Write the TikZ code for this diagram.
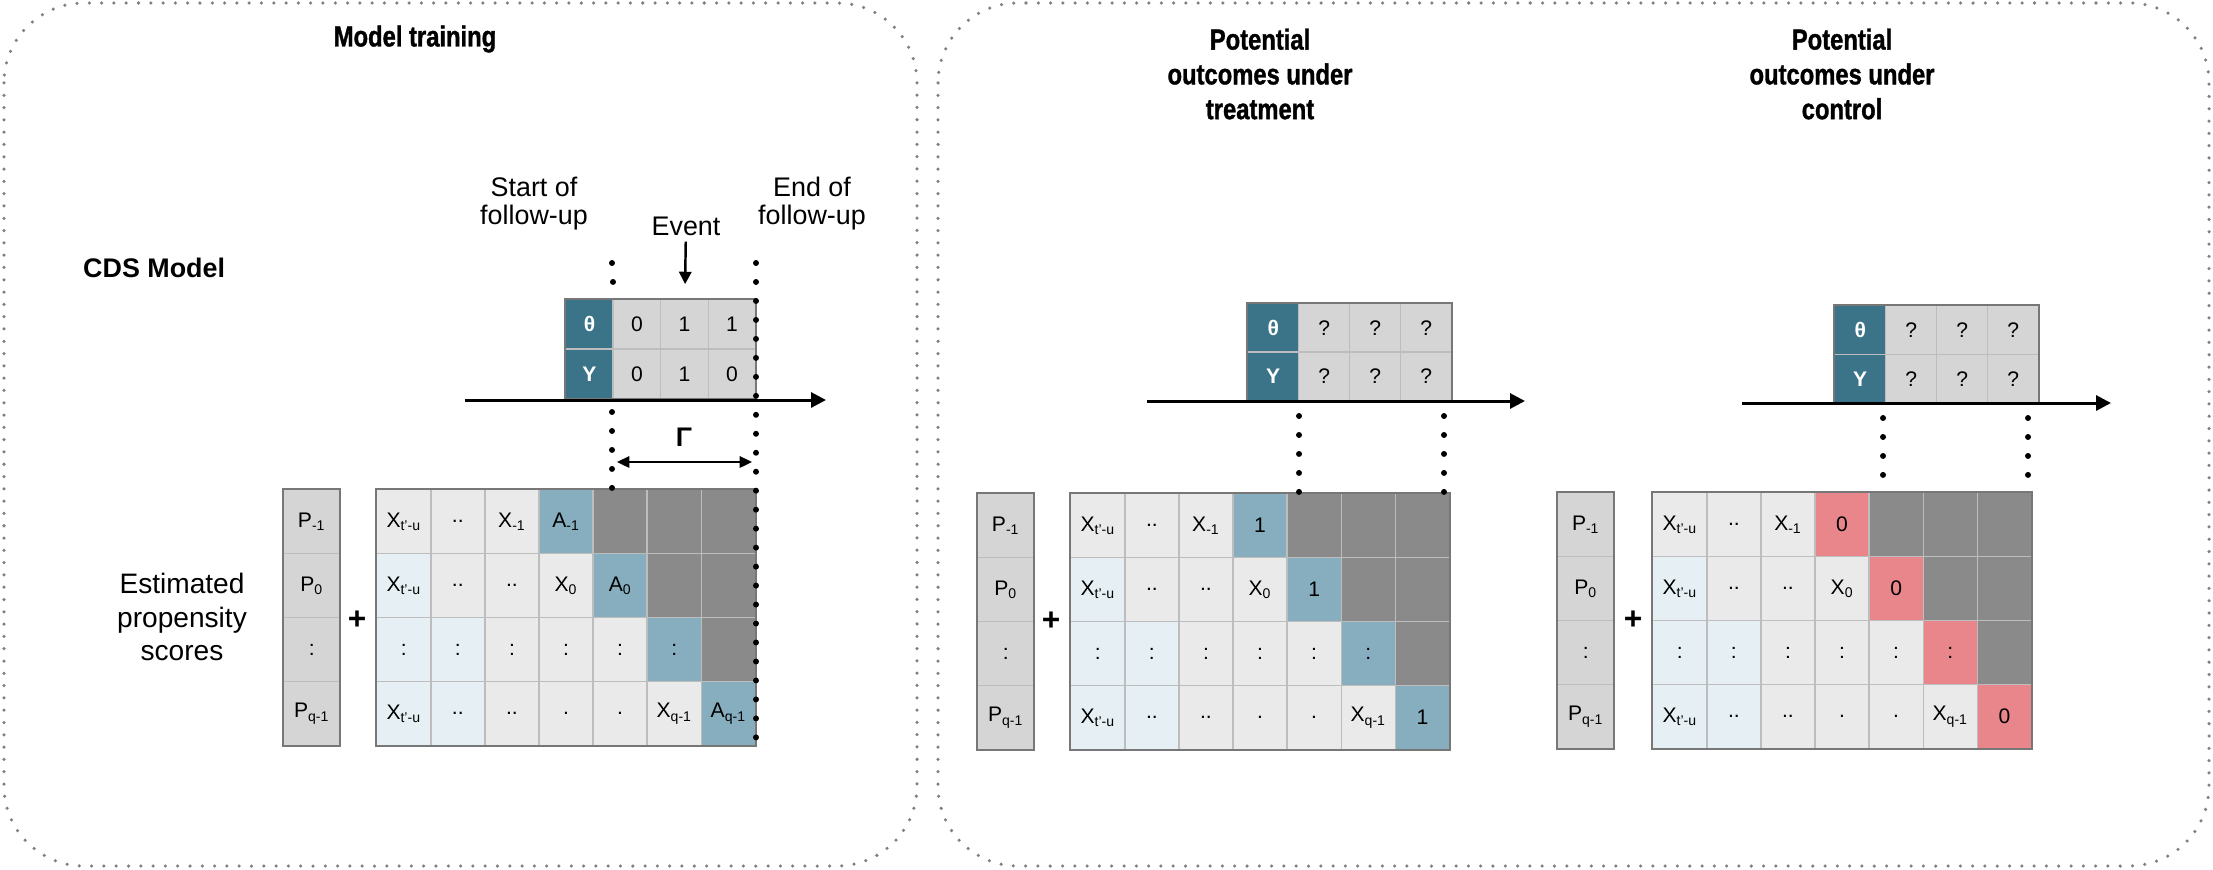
\documentclass[tikz,border=0pt]{standalone}
\usepackage{fontspec}
\setmainfont{Liberation Sans}
\newfontfamily\titlefont[FakeStretch=0.82, FakeBold=1.2]{Liberation Sans Bold}
\usetikzlibrary{arrows.meta}
\definecolor{tealdark}{HTML}{3B7489}
\definecolor{teallight}{HTML}{86AEBE}
\definecolor{graydark}{HTML}{8A8A8A}
\definecolor{graylight}{HTML}{EAEAEA}
\definecolor{paleblue}{HTML}{E6F0F4}
\definecolor{graymid}{HTML}{D5D5D5}
\definecolor{pinkcell}{HTML}{E8868C}
\definecolor{cellline}{HTML}{BDBDBD}
\definecolor{frameline}{HTML}{777777}
\definecolor{panelline}{HTML}{808080}
\tikzset{
  every node/.style={
    font=\fontsize{12}{14}\selectfont
  },
  cell/.style={
    shape=rectangle,
    draw=cellline,
    line width=0.8pt,
    minimum width=1.082cm,
    minimum height=1.28cm,
    inner sep=0pt,
    text=black
  },
  lt/.style={cell, fill=graylight},
  pb/.style={cell, fill=paleblue},
  dk/.style={cell, fill=graydark},
  ac/.style={cell, fill=teallight},
  pk/.style={cell, fill=pinkcell},
  pc/.style={cell, fill=graymid, minimum width=1.12cm},
  tcell/.style={
    shape=rectangle,
    draw=cellline,
    line width=0.8pt,
    minimum width=0.95cm,
    minimum height=0.99cm,
    inner sep=0pt
  },
  tc/.style={tcell, fill=graymid, text=black},
  hd/.style={tcell, fill=tealdark, text=white, font=\fontsize{12}{14}\selectfont\bfseries},
  frame/.style={draw=frameline, line width=1.1pt},
  timeline/.style={line width=1.7pt, -{Triangle[length=8.5pt,width=8.5pt]}},
  followup/.style={line width=3.4pt, line cap=round, dash pattern=on 0pt off 10.8pt},
  span/.style={line width=1.1pt, {Triangle[length=7pt,width=6.5pt]}-{Triangle[length=7pt,width=6.5pt]}},
  eventarrow/.style={line width=1.4pt, -{Triangle[length=7pt,width=7pt]}, shorten >=8.5pt},
  panel/.style={draw=panelline, line width=2pt, line cap=round, dash pattern=on 0pt off 7pt, rounded corners=1.6cm},
  title/.style={font=\titlefont\fontsize{16.5}{19.8}\selectfont, align=center},
  note/.style={font=\fontsize{15.3}{15.9}\selectfont, align=center},
  plus/.style={font=\fontsize{18}{20}\selectfont\bfseries}
}
\begin{document}
\begin{tikzpicture}[x=0.02cm, y=-0.02cm]
  \useasboundingbox (0,0) rectangle (2213,869);
  % panels
  \draw[panel] (4,3) rectangle (917,866);
  \draw[panel] (938,3) rectangle (2209,866);

  % model training
  \node[title] (Ltitle) at (415,39) {Model training};
  \node[note, font=\fontsize{15.3}{15.9}\selectfont\bfseries, anchor=west] (Lcds) at (77,268) {CDS Model};
  \node[note] (Lstart) at (534,204) {Start of\\follow-up};
  \node[note] (Lend) at (812,204) {End of\\follow-up};
  \node[note] (Lev) at (686,226) {Event};
  \foreach \cells [count=\r from 0] in {{hd/θ, tc/0, tc/1, tc/1}, {hd/Y, tc/0, tc/1, tc/0}}
    \foreach \s/\txt [count=\c from 0] in \cells
      \node[\s, anchor=north west] (LT-\r-\c) at (565+\c*47.5, 299+\r*49.5) {\txt};
  \draw[frame] (LT-0-0.north west) rectangle (LT-1-3.south east);
  \draw[eventarrow] (Lev) -- (LT-0-2);
  \coordinate (Lt0) at (465,400);
  \coordinate (Lt1) at (826,400);
  \draw[timeline] (Lt0) -- (Lt1);
  \foreach \txt [count=\r from 0] in {P\textsubscript{-1}, P\textsubscript{0}, :, P\textsubscript{q-1}}
    \node[pc, anchor=north west] (LP-\r) at (283, 489+\r*64) {\txt};
  \draw[frame] (LP-0.north west) rectangle (LP-3.south east);
  \node[plus] (Lplus) at (357,620) {+};
  \node[note, font=\fontsize{16}{19.3}\selectfont] (Lest) at (182,617) {Estimated\\propensity\\scores};
  \foreach \cells [count=\r from 0] in {
    {lt/X\textsubscript{t'-u}, lt/.., lt/X\textsubscript{-1}, ac/A\textsubscript{-1}, dk/, dk/, dk/},
    {pb/X\textsubscript{t'-u}, lt/.., lt/.., lt/X\textsubscript{0}, ac/A\textsubscript{0}, dk/, dk/},
    {pb/:, pb/:, lt/:, lt/:, lt/:, ac/:, dk/},
    {pb/X\textsubscript{t'-u}, pb/.., lt/.., lt/., lt/., lt/X\textsubscript{q-1}, ac/A\textsubscript{q-1}}}
    \foreach \s/\txt [count=\c from 0] in \cells
      \node[\s, anchor=north west] (L-\r-\c) at (376+\c*54.1, 489+\r*64) {\txt};
  \draw[frame] (L-0-0.north west) rectangle (L-3-6.south east);
  \coordinate (Ls0) at (612,263);
  \coordinate (Ls1) at (612,412);
  \coordinate (Le0) at (756,263);
  \draw[followup] (Ls0) -- (LT-0-0.north east);
  \draw[followup] (Ls1) -- (Ls1 |- L-0-4.north);
  \draw[followup] (Le0) -- (Le0 |- L-3-6.south);
  \coordinate (Lg0) at (617,462);
  \coordinate (Lg1) at (752,462);
  \draw[span] (Lg0) -- (Lg1);
  \node[font=\fontsize{15.3}{16}\selectfont\bfseries] (Lgam) at (684,437) {Γ};

  % under treatment
  \node[title] (Ttitle) at (1260,74) {Potential\\outcomes under\\treatment};
  \begin{scope}[tcell/.append style={minimum width=1.02cm, minimum height=0.97cm}]
    \foreach \cells [count=\r from 0] in {{hd/θ, tc/?, tc/?, tc/?}, {hd/Y, tc/?, tc/?, tc/?}}
      \foreach \s/\txt [count=\c from 0] in \cells
        \node[\s, anchor=north west] (TT-\r-\c) at (1247+\c*51, 303+\r*48.5) {\txt};
  \end{scope}
  \draw[frame] (TT-0-0.north west) rectangle (TT-1-3.south east);
  \coordinate (Tt0) at (1147,401);
  \coordinate (Tt1) at (1525,401);
  \draw[timeline] (Tt0) -- (Tt1);
  \foreach \txt [count=\r from 0] in {P\textsubscript{-1}, P\textsubscript{0}, :, P\textsubscript{q-1}}
    \node[pc, anchor=north west] (TP-\r) at (977, 493+\r*64) {\txt};
  \draw[frame] (TP-0.north west) rectangle (TP-3.south east);
  \node[plus] (Tplus) at (1051,621) {+};
  \foreach \cells [count=\r from 0] in {
    {lt/X\textsubscript{t'-u}, lt/.., lt/X\textsubscript{-1}, ac/1, dk/, dk/, dk/},
    {pb/X\textsubscript{t'-u}, lt/.., lt/.., lt/X\textsubscript{0}, ac/1, dk/, dk/},
    {pb/:, pb/:, lt/:, lt/:, lt/:, ac/:, dk/},
    {pb/X\textsubscript{t'-u}, pb/.., lt/.., lt/., lt/., lt/X\textsubscript{q-1}, ac/1}}
    \foreach \s/\txt [count=\c from 0] in \cells
      \node[\s, anchor=north west] (T-\r-\c) at (1070+\c*54.1, 493+\r*64) {\txt};
  \draw[frame] (T-0-0.north west) rectangle (T-3-6.south east);
  \coordinate (Ts1) at (1299,416);
  \coordinate (Te1) at (1444,416);
  \draw[followup] (Ts1) -- (Ts1 |- T-0-4.north);
  \draw[followup] (Te1) -- (Te1 |- T-0-6.north);

  % under control
  \node[title] (Ctitle) at (1842,74) {Potential\\outcomes under\\control};
  \begin{scope}[tcell/.append style={minimum width=1.02cm, minimum height=0.98cm}]
    \foreach \cells [count=\r from 0] in {{hd/θ, tc/?, tc/?, tc/?}, {hd/Y, tc/?, tc/?, tc/?}}
      \foreach \s/\txt [count=\c from 0] in \cells
        \node[\s, anchor=north west] (CT-\r-\c) at (1834+\c*51, 305+\r*49) {\txt};
  \end{scope}
  \draw[frame] (CT-0-0.north west) rectangle (CT-1-3.south east);
  \coordinate (Ct0) at (1742,403);
  \coordinate (Ct1) at (2111,403);
  \draw[timeline] (Ct0) -- (Ct1);
  \foreach \txt [count=\r from 0] in {P\textsubscript{-1}, P\textsubscript{0}, :, P\textsubscript{q-1}}
    \node[pc, anchor=north west] (CP-\r) at (1557, 492+\r*64) {\txt};
  \draw[frame] (CP-0.north west) rectangle (CP-3.south east);
  \node[plus] (Cplus) at (1633,620) {+};
  \foreach \cells [count=\r from 0] in {
    {lt/X\textsubscript{t'-u}, lt/.., lt/X\textsubscript{-1}, pk/0, dk/, dk/, dk/},
    {pb/X\textsubscript{t'-u}, lt/.., lt/.., lt/X\textsubscript{0}, pk/0, dk/, dk/},
    {pb/:, pb/:, lt/:, lt/:, lt/:, pk/:, dk/},
    {pb/X\textsubscript{t'-u}, pb/.., lt/.., lt/., lt/., lt/X\textsubscript{q-1}, pk/0}}
    \foreach \s/\txt [count=\c from 0] in \cells
      \node[\s, anchor=north west] (C-\r-\c) at (1652+\c*54.1, 492+\r*64) {\txt};
  \draw[frame] (C-0-0.north west) rectangle (C-3-6.south east);
  \coordinate (Cs1) at (1883,418);
  \coordinate (Ce1) at (2028,418);
  \draw[followup] (Cs1) -- (Cs1 |- C-0-4.north);
  \draw[followup] (Ce1) -- (Ce1 |- C-0-6.north);
\end{tikzpicture}
\end{document}
